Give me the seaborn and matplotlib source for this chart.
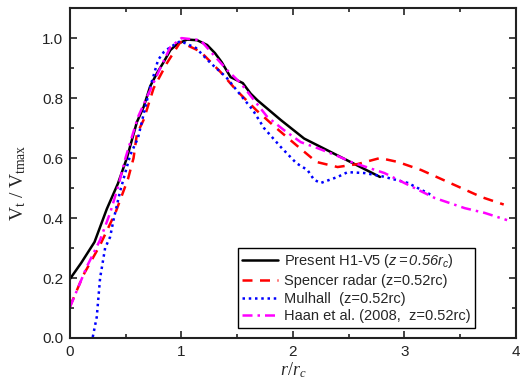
import numpy as np
import pandas as pd
import matplotlib
matplotlib.use('Agg')
import matplotlib.pyplot as plt
from matplotlib.ticker import MultipleLocator
import seaborn as sns

# Data (r/rc, Vt/Vtmax)
present_r = [0.0, 0.1, 0.22, 0.33, 0.43, 0.51, 0.6, 0.66, 0.72, 0.78, 0.84, 0.9, 0.96, 1.05, 1.14,
             1.23, 1.3, 1.36, 1.44, 1.55, 1.62, 1.68, 1.89, 2.1, 2.43, 2.78]
present_v = [0.197, 0.25, 0.32, 0.43, 0.515, 0.6, 0.72, 0.77, 0.84, 0.883, 0.92, 0.96, 0.98, 0.995, 0.993,
             0.977, 0.95, 0.92, 0.87, 0.85, 0.815, 0.793, 0.727, 0.665, 0.603, 0.537]

spencer_r = [0.0, 0.12, 0.27, 0.41, 0.52, 0.57, 0.6, 0.66, 0.75, 0.87, 0.99, 1.17, 1.35, 1.49, 1.67,
             1.85, 2.03, 2.21, 2.4, 2.58, 2.78, 2.94, 3.15, 3.33, 3.51, 3.69, 3.89]
spencer_v = [0.105, 0.21, 0.31, 0.42, 0.53, 0.6, 0.68, 0.727, 0.833, 0.917, 0.987, 0.955, 0.887, 0.827, 0.76,
             0.70, 0.643, 0.587, 0.57, 0.58, 0.60, 0.587, 0.56, 0.53, 0.50, 0.47, 0.445]

mulhall_r = [0.204, 0.24, 0.27, 0.315, 0.36, 0.39, 0.45, 0.54, 0.61, 0.68, 0.72, 0.79, 0.84, 0.9, 0.99,
             1.13, 1.26, 1.4, 1.53, 1.64, 1.74, 1.89, 2.03, 2.13, 2.19, 2.25, 2.4, 2.49, 2.64, 2.79,
             3.03, 3.24]
mulhall_v = [0.003, 0.07, 0.2, 0.3, 0.337, 0.393, 0.49, 0.61, 0.667, 0.777, 0.837, 0.927, 0.953, 0.97, 0.99,
             0.967, 0.917, 0.87, 0.81, 0.76, 0.70, 0.637, 0.583, 0.56, 0.527, 0.517, 0.537, 0.553, 0.55, 0.54,
             0.517, 0.477]

haan_r = [0.0, 0.15, 0.27, 0.36, 0.43, 0.5, 0.61, 0.69, 0.81, 0.9, 1.0, 1.17, 1.41, 1.53, 1.77,
          1.92, 2.07, 2.22, 2.4, 2.52, 2.82, 3.09, 3.27, 3.54, 3.72, 3.92]
haan_v = [0.103, 0.237, 0.327, 0.417, 0.503, 0.603, 0.737, 0.803, 0.9, 0.97, 1.0, 0.993, 0.893, 0.85, 0.737,
          0.693, 0.653, 0.633, 0.607, 0.587, 0.55, 0.50, 0.467, 0.433, 0.417, 0.393]

labels = [r'Present H1-V5 ($\mathtt{z{=}0.56r_c}$)',
          'Spencer radar (z=0.52rc)',
          'Mulhall  (z=0.52rc)',
          'Haan et al. (2008,  z=0.52rc)']

sns.set_style('ticks')
plt.rcParams['font.family'] = ['Liberation Sans', 'DejaVu Sans']
plt.rcParams['mathtext.fontset'] = 'custom'
plt.rcParams['mathtext.rm'] = 'Liberation Serif'
plt.rcParams['mathtext.it'] = 'Liberation Serif:italic'
plt.rcParams['mathtext.tt'] = 'Liberation Sans:italic'

fig = plt.figure(figsize=(5.2, 3.86), dpi=100)
ax = fig.add_axes([0.1346, 0.1244, 0.8577, 0.8546])

series = [(present_r, present_v, 'black', '-'),
          (spencer_r, spencer_v, '#ff0000', (0, (4, 3))),
          (mulhall_r, mulhall_v, '#0000ff', (0, (1, 1.5))),
          (haan_r, haan_v, '#ff00ff', (0, (4, 2, 1, 2)))]

for (r, v, c, ls), lab in zip(series, labels):
    df = pd.DataFrame({'r': r, 'v': v})
    sns.lineplot(data=df, x='r', y='v', ax=ax, color=c, sort=False,
                 linewidth=1.8, label=lab, linestyle=ls)

ax.set_xlim(0, 4)
ax.set_ylim(0, 1.1)
ax.xaxis.set_minor_locator(MultipleLocator(0.5))
ax.yaxis.set_minor_locator(MultipleLocator(0.1))
ax.set_xticks([0, 1, 2, 3, 4])
ax.set_xticklabels(['0', '1', '2', '3', '4'])
ax.set_yticks([0, 0.2, 0.4, 0.6, 0.8, 1.0])
ax.set_yticklabels(['0.0', '0.2', '0.4', '0.6', '0.8', '1.0'])

ax.tick_params(which='both', direction='in', top=True, right=True, labelsize=11,
               colors='#222222', width=1.2)
ax.tick_params(which='major', length=5, pad=5)
ax.tick_params(which='minor', length=3)
for s in ax.spines.values():
    s.set_linewidth(1.5)
    s.set_color('#222222')

ax.set_xlabel(r'$r/r_c$', fontsize=13, labelpad=1)
ax.set_ylabel(r'$\mathrm{V_t\ /\ V_{tmax}}$', fontsize=14, labelpad=3)
ax.yaxis.set_label_coords(-0.095, 0.47)

leg = ax.legend(loc='lower right', bbox_to_anchor=(0.915, 0.022), fontsize=10.5,
                frameon=True, fancybox=False, edgecolor='black', framealpha=1,
                handlelength=2.5, borderpad=0.3, labelspacing=0.25, handletextpad=0.4,
                borderaxespad=0.2)
leg.get_frame().set_linewidth(1.0)

fig.savefig('out.png', dpi=100)
